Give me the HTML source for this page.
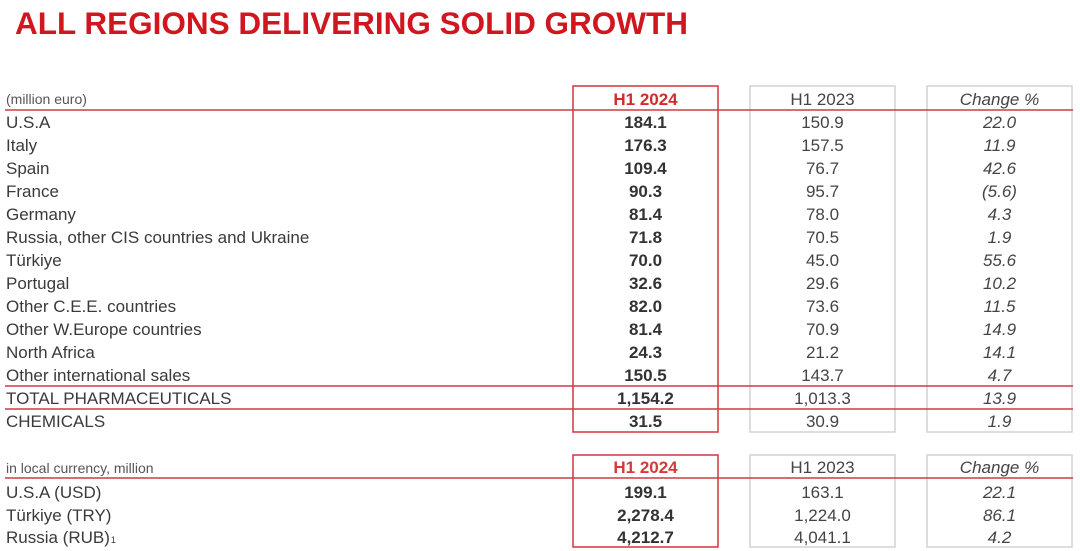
<!DOCTYPE html>
<html>
<head>
<meta charset="utf-8">
<style>
  html, body { margin: 0; padding: 0; background: #ffffff; }
  body { width: 1080px; height: 551px; overflow: hidden; }
  svg { display: block; }
  text { font-family: "Liberation Sans", Arial, sans-serif; }
  .lbl { font-size: 17px; fill: #3a3a3a; }
  .hdr { font-size: 14px; fill: #555555; }
  .b { font-size: 17px; font-weight: bold; fill: #333333; }
  .r { font-size: 17px; fill: #444444; }
  .i { font-size: 17px; font-style: italic; fill: #444444; }
</style>
</head>
<body>
<svg width="1080" height="551" viewBox="0 0 1080 551" xmlns="http://www.w3.org/2000/svg">
  <rect x="0" y="0" width="1080" height="551" fill="#ffffff"/>

  <!-- Title -->
  <text x="15" y="34" font-size="31.5" font-weight="bold" fill="#d0161f" textLength="673" lengthAdjust="spacingAndGlyphs">ALL REGIONS DELIVERING SOLID GROWTH</text>

  <!-- Gray boxes -->
  <rect x="750" y="86" width="145" height="346" fill="none" stroke="#d2d2d2" stroke-width="1.5"/>
  <rect x="927" y="86" width="145" height="346" fill="none" stroke="#d2d2d2" stroke-width="1.5"/>
  <rect x="750" y="455" width="145" height="92" fill="none" stroke="#d2d2d2" stroke-width="1.5"/>
  <rect x="927" y="455" width="145" height="92" fill="none" stroke="#d2d2d2" stroke-width="1.5"/>

  <!-- Red boxes -->
  <rect x="573" y="86" width="145" height="346" fill="none" stroke="#d3343e" stroke-width="1.5"/>
  <rect x="573" y="455" width="145" height="92" fill="none" stroke="#d3343e" stroke-width="1.5"/>

  <!-- Red lines -->
  <line x1="5" y1="110" x2="1073" y2="110" stroke="#cf3a45" stroke-width="1.5"/>
  <line x1="5" y1="386" x2="1073" y2="386" stroke="#cf3a45" stroke-width="1.5"/>
  <line x1="5" y1="409" x2="1073" y2="409" stroke="#cf3a45" stroke-width="1.5"/>
  <line x1="5" y1="478" x2="1073" y2="478" stroke="#cf3a45" stroke-width="1.5"/>

  <!-- Table 1 header -->
  <text class="hdr" x="6" y="104">(million euro)</text>
  <text x="645.5" y="105" font-size="17" font-weight="bold" fill="#d42a2a" text-anchor="middle">H1 2024</text>
  <text class="r" x="822.5" y="105" text-anchor="middle">H1 2023</text>
  <text class="i" x="999.5" y="105" text-anchor="middle">Change %</text>

  <!-- Table 1 rows -->
  <g>
    <text class="lbl" x="6" y="128">U.S.A</text>
    <text class="b" x="645.5" y="128" text-anchor="middle">184.1</text>
    <text class="r" x="822.5" y="128" text-anchor="middle">150.9</text>
    <text class="i" x="999.5" y="128" text-anchor="middle">22.0</text>

    <text class="lbl" x="6" y="151">Italy</text>
    <text class="b" x="645.5" y="151" text-anchor="middle">176.3</text>
    <text class="r" x="822.5" y="151" text-anchor="middle">157.5</text>
    <text class="i" x="999.5" y="151" text-anchor="middle">11.9</text>

    <text class="lbl" x="6" y="174">Spain</text>
    <text class="b" x="645.5" y="174" text-anchor="middle">109.4</text>
    <text class="r" x="822.5" y="174" text-anchor="middle">76.7</text>
    <text class="i" x="999.5" y="174" text-anchor="middle">42.6</text>

    <text class="lbl" x="6" y="197">France</text>
    <text class="b" x="645.5" y="197" text-anchor="middle">90.3</text>
    <text class="r" x="822.5" y="197" text-anchor="middle">95.7</text>
    <text class="i" x="999.5" y="197" text-anchor="middle">(5.6)</text>

    <text class="lbl" x="6" y="220">Germany</text>
    <text class="b" x="645.5" y="220" text-anchor="middle">81.4</text>
    <text class="r" x="822.5" y="220" text-anchor="middle">78.0</text>
    <text class="i" x="999.5" y="220" text-anchor="middle">4.3</text>

    <text class="lbl" x="6" y="243">Russia, other CIS countries and Ukraine</text>
    <text class="b" x="645.5" y="243" text-anchor="middle">71.8</text>
    <text class="r" x="822.5" y="243" text-anchor="middle">70.5</text>
    <text class="i" x="999.5" y="243" text-anchor="middle">1.9</text>

    <text class="lbl" x="6" y="266">Türkiye</text>
    <text class="b" x="645.5" y="266" text-anchor="middle">70.0</text>
    <text class="r" x="822.5" y="266" text-anchor="middle">45.0</text>
    <text class="i" x="999.5" y="266" text-anchor="middle">55.6</text>

    <text class="lbl" x="6" y="289">Portugal</text>
    <text class="b" x="645.5" y="289" text-anchor="middle">32.6</text>
    <text class="r" x="822.5" y="289" text-anchor="middle">29.6</text>
    <text class="i" x="999.5" y="289" text-anchor="middle">10.2</text>

    <text class="lbl" x="6" y="312">Other C.E.E. countries</text>
    <text class="b" x="645.5" y="312" text-anchor="middle">82.0</text>
    <text class="r" x="822.5" y="312" text-anchor="middle">73.6</text>
    <text class="i" x="999.5" y="312" text-anchor="middle">11.5</text>

    <text class="lbl" x="6" y="335">Other W.Europe countries</text>
    <text class="b" x="645.5" y="335" text-anchor="middle">81.4</text>
    <text class="r" x="822.5" y="335" text-anchor="middle">70.9</text>
    <text class="i" x="999.5" y="335" text-anchor="middle">14.9</text>

    <text class="lbl" x="6" y="358">North Africa</text>
    <text class="b" x="645.5" y="358" text-anchor="middle">24.3</text>
    <text class="r" x="822.5" y="358" text-anchor="middle">21.2</text>
    <text class="i" x="999.5" y="358" text-anchor="middle">14.1</text>

    <text class="lbl" x="6" y="381">Other international sales</text>
    <text class="b" x="645.5" y="381" text-anchor="middle">150.5</text>
    <text class="r" x="822.5" y="381" text-anchor="middle">143.7</text>
    <text class="i" x="999.5" y="381" text-anchor="middle">4.7</text>

    <text class="lbl" x="6" y="404">TOTAL PHARMACEUTICALS</text>
    <text class="b" x="645.5" y="404" text-anchor="middle">1,154.2</text>
    <text class="r" x="822.5" y="404" text-anchor="middle">1,013.3</text>
    <text class="i" x="999.5" y="404" text-anchor="middle">13.9</text>

    <text class="lbl" x="6" y="427">CHEMICALS</text>
    <text class="b" x="645.5" y="427" text-anchor="middle">31.5</text>
    <text class="r" x="822.5" y="427" text-anchor="middle">30.9</text>
    <text class="i" x="999.5" y="427" text-anchor="middle">1.9</text>
  </g>

  <!-- Table 2 header -->
  <text class="hdr" x="6" y="473">in local currency, million</text>
  <text x="645.5" y="473" font-size="17" font-weight="bold" fill="#d43a3a" text-anchor="middle">H1 2024</text>
  <text class="r" x="822.5" y="473" text-anchor="middle">H1 2023</text>
  <text class="i" x="999.5" y="473" text-anchor="middle">Change %</text>

  <!-- Table 2 rows -->
  <text class="lbl" x="6" y="498">U.S.A (USD)</text>
  <text class="b" x="645.5" y="498" text-anchor="middle">199.1</text>
  <text class="r" x="822.5" y="498" text-anchor="middle">163.1</text>
  <text class="i" x="999.5" y="498" text-anchor="middle">22.1</text>

  <text class="lbl" x="6" y="521">Türkiye (TRY)</text>
  <text class="b" x="645.5" y="521" text-anchor="middle">2,278.4</text>
  <text class="r" x="822.5" y="521" text-anchor="middle">1,224.0</text>
  <text class="i" x="999.5" y="521" text-anchor="middle">86.1</text>

  <text class="lbl" x="6" y="543">Russia (RUB)<tspan font-size="9" dx="1">1</tspan></text>
  <text class="b" x="645.5" y="543" text-anchor="middle">4,212.7</text>
  <text class="r" x="822.5" y="543" text-anchor="middle">4,041.1</text>
  <text class="i" x="999.5" y="543" text-anchor="middle">4.2</text>
</svg>
</body>
</html>
